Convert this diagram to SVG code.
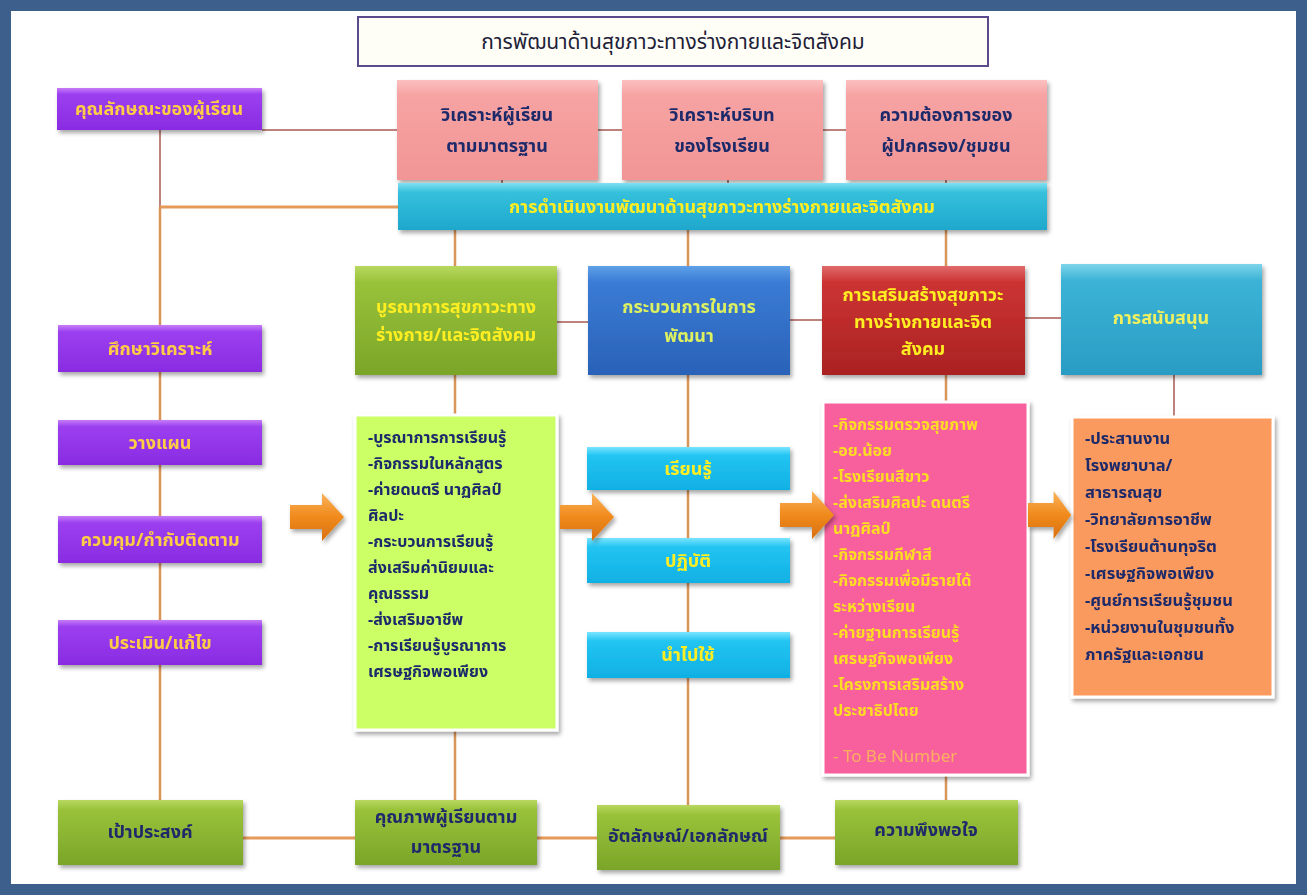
<svg xmlns="http://www.w3.org/2000/svg" width="1307" height="895" viewBox="0 0 1307 895">
<defs>
<style>
text{font-family:"Noto Sans Thai","Tahoma","Leelawadee UI","Liberation Sans","DejaVu Sans",sans-serif;}
.t{font-size:18px;font-weight:bold;text-anchor:middle;dominant-baseline:central;}
.y{fill:#ffee22;}
.o{fill:#ffcc44;}
.n{fill:#1f2a6b;}
.lst{font-size:16px;font-weight:bold;fill:#1f2a6b;}
.lso{font-size:16.5px;font-weight:bold;fill:#1f2a6b;}
.lsp{font-size:16px;font-weight:bold;fill:#ffdd22;}
.cb{fill:none;stroke:#a65a50;stroke-width:1.5;}
.co{fill:none;stroke:#e59a5a;stroke-width:3;}
.cv{fill:none;stroke:#d9955a;stroke-width:2.5;}
.box{filter:url(#sh);}
</style>
<filter id="sh" x="-10%" y="-10%" width="125%" height="135%">
<feDropShadow dx="2" dy="3" stdDeviation="2" flood-color="#000" flood-opacity="0.35"/>
</filter>
<linearGradient id="gPur" x1="0" y1="0" x2="0" y2="1"><stop offset="0" stop-color="#c67cf7"/><stop offset="0.15" stop-color="#9b3ff0"/><stop offset="1" stop-color="#8a2be2"/></linearGradient>
<linearGradient id="gPink" x1="0" y1="0" x2="0" y2="1"><stop offset="0" stop-color="#fbc0c0"/><stop offset="0.15" stop-color="#f7a3a3"/><stop offset="1" stop-color="#f19595"/></linearGradient>
<linearGradient id="gCy" x1="0" y1="0" x2="0" y2="1"><stop offset="0" stop-color="#7fe0f0"/><stop offset="0.2" stop-color="#35c0dc"/><stop offset="1" stop-color="#1ea8cc"/></linearGradient>
<linearGradient id="gGr" x1="0" y1="0" x2="0" y2="1"><stop offset="0" stop-color="#b8d860"/><stop offset="0.15" stop-color="#99c23a"/><stop offset="1" stop-color="#7aa528"/></linearGradient>
<linearGradient id="gBl" x1="0" y1="0" x2="0" y2="1"><stop offset="0" stop-color="#5fa0e8"/><stop offset="0.15" stop-color="#3a7bd5"/><stop offset="1" stop-color="#2a62b8"/></linearGradient>
<linearGradient id="gRd" x1="0" y1="0" x2="0" y2="1"><stop offset="0" stop-color="#e06a6a"/><stop offset="0.15" stop-color="#cc3333"/><stop offset="1" stop-color="#aa2222"/></linearGradient>
<linearGradient id="gSb" x1="0" y1="0" x2="0" y2="1"><stop offset="0" stop-color="#7dd4ea"/><stop offset="0.15" stop-color="#3bb3d6"/><stop offset="1" stop-color="#2a9cc4"/></linearGradient>
<linearGradient id="gSky" x1="0" y1="0" x2="0" y2="1"><stop offset="0" stop-color="#7ae4ff"/><stop offset="0.2" stop-color="#22c4f2"/><stop offset="1" stop-color="#10b0e4"/></linearGradient>
<linearGradient id="gArr" x1="0" y1="0" x2="0" y2="1"><stop offset="0" stop-color="#fbb35a"/><stop offset="0.5" stop-color="#f08a1c"/><stop offset="1" stop-color="#d8700e"/></linearGradient>
<path id="arr" d="M0,-12 H32 V-24 L54,0 L32,24 V12 H0 Z"/>
</defs>

<rect x="0" y="0" width="1307" height="895" fill="#3d5f8c"/>
<rect x="11" y="11" width="1285" height="873" fill="#ffffff"/>

<g id="connectors">
<line class="cb" x1="262" y1="130" x2="397" y2="130"/>
<line class="cb" x1="598" y1="130" x2="622" y2="130"/>
<line class="cb" x1="823" y1="130" x2="846" y2="130"/>
<line class="cb" x1="502" y1="180" x2="502" y2="183"/>
<line class="cb" x1="728" y1="180" x2="728" y2="183"/>
<line class="cb" x1="946" y1="180" x2="946" y2="183"/>
<line class="cb" x1="160" y1="130" x2="160" y2="207"/>
<line class="co" x1="160" y1="207" x2="398" y2="207"/>
<line class="cv" x1="160" y1="207" x2="160" y2="800"/>
<line class="cv" x1="455" y1="230" x2="455" y2="800"/>
<line class="cv" x1="688" y1="230" x2="688" y2="805"/>
<line class="cv" x1="946" y1="230" x2="946" y2="800"/>
<line class="cb" x1="557" y1="322" x2="588" y2="322"/>
<line class="cb" x1="790" y1="320" x2="822" y2="320"/>
<line class="cb" x1="1025" y1="318" x2="1061" y2="318"/>
<line class="cb" x1="1174" y1="375" x2="1174" y2="417"/>
<line class="co" x1="243" y1="838" x2="355" y2="838"/>
<line class="co" x1="537" y1="838" x2="597" y2="838"/>
<line class="co" x1="780" y1="838" x2="835" y2="838"/>
</g>

<g id="title"><rect x="358" y="17" width="630" height="49" fill="#fffef6" stroke="#5b4a8c" stroke-width="2"/><text x="673" y="42" fill="#1f1f3a" font-size="21" text-anchor="middle" dominant-baseline="central">การพัฒนาด้านสุขภาวะทางร่างกายและจิตสังคม</text></g>

<g id="n-learner" class="box"><rect x="57" y="88" width="205" height="42" fill="url(#gPur)"/><text class="t o" x="159" y="109">คุณลักษณะของผู้เรียน</text></g>
<g id="n-an1" class="box"><rect x="397" y="80" width="201" height="100" fill="url(#gPink)"/><text class="t n" x="497" y="115">วิเคราะห์ผู้เรียน</text><text class="t n" x="497" y="146">ตามมาตรฐาน</text></g>
<g id="n-an2" class="box"><rect x="622" y="80" width="201" height="100" fill="url(#gPink)"/><text class="t n" x="722" y="115">วิเคราะห์บริบท</text><text class="t n" x="722" y="146">ของโรงเรียน</text></g>
<g id="n-an3" class="box"><rect x="846" y="80" width="201" height="100" fill="url(#gPink)"/><text class="t n" x="946" y="115">ความต้องการของ</text><text class="t n" x="946" y="146">ผู้ปกครอง/ชุมชน</text></g>

<g id="n-ops" class="box"><rect x="398" y="183" width="649" height="47" fill="url(#gCy)"/><text class="t y" x="722" y="207">การดำเนินงานพัฒนาด้านสุขภาวะทางร่างกายและจิตสังคม</text></g>

<g id="n-integ" class="box"><rect x="355" y="266" width="202" height="109" fill="url(#gGr)"/><text class="t y" x="456" y="307">บูรณาการสุขภาวะทาง</text><text class="t y" x="456" y="335">ร่างกาย/และจิตสังคม</text></g>
<g id="n-proc" class="box"><rect x="588" y="266" width="202" height="109" fill="url(#gBl)"/><text class="t" x="689" y="307" fill="#ddf060">กระบวนการในการ</text><text class="t" x="689" y="336" fill="#ddf060">พัฒนา</text></g>
<g id="n-prom" class="box"><rect x="822" y="266" width="203" height="109" fill="url(#gRd)"/><text class="t y" x="923" y="295">การเสริมสร้างสุขภาวะ</text><text class="t y" x="923" y="322">ทางร่างกายและจิต</text><text class="t y" x="923" y="349">สังคม</text></g>
<g id="n-supp" class="box"><rect x="1061" y="264" width="201" height="111" fill="url(#gSb)"/><text class="t" x="1161" y="318" fill="#eef060">การสนับสนุน</text></g>

<g id="n-study" class="box"><rect x="58" y="325" width="204" height="47" fill="url(#gPur)"/><text class="t o" x="160" y="349">ศึกษาวิเคราะห์</text></g>
<g id="n-plan" class="box"><rect x="58" y="420" width="204" height="45" fill="url(#gPur)"/><text class="t o" x="160" y="443">วางแผน</text></g>
<g id="n-ctrl" class="box"><rect x="58" y="516" width="204" height="47" fill="url(#gPur)"/><text class="t o" x="160" y="540">ควบคุม/กำกับติดตาม</text></g>
<g id="n-eval" class="box"><rect x="58" y="620" width="204" height="45" fill="url(#gPur)"/><text class="t o" x="160" y="643">ประเมิน/แก้ไข</text></g>

<g id="n-list1" class="box"><rect x="355" y="415" width="202" height="315" fill="#ccff66" stroke="#ffffff" stroke-width="3"/>
<text class="lst" x="368" y="443">-บูรณาการการเรียนรู้</text>
<text class="lst" x="368" y="469">-กิจกรรมในหลักสูตร</text>
<text class="lst" x="368" y="495">-ค่ายดนตรี นาฏศิลป์</text>
<text class="lst" x="368" y="521">ศิลปะ</text>
<text class="lst" x="368" y="547">-กระบวนการเรียนรู้</text>
<text class="lst" x="368" y="573">ส่งเสริมค่านิยมและ</text>
<text class="lst" x="368" y="599">คุณธรรม</text>
<text class="lst" x="368" y="625">-ส่งเสริมอาชีพ</text>
<text class="lst" x="368" y="651">-การเรียนรู้บูรณาการ</text>
<text class="lst" x="368" y="677">เศรษฐกิจพอเพียง</text>
</g>

<g id="n-learn" class="box"><rect x="587" y="447" width="203" height="43" fill="url(#gSky)"/><text class="t y" x="688" y="469">เรียนรู้</text></g>
<g id="n-practice" class="box"><rect x="587" y="538" width="203" height="45" fill="url(#gSky)"/><text class="t y" x="688" y="561">ปฏิบัติ</text></g>
<g id="n-apply" class="box"><rect x="587" y="632" width="203" height="46" fill="url(#gSky)"/><text class="t y" x="688" y="655">นำไปใช้</text></g>

<g id="n-list2" class="box"><rect x="823" y="402" width="205" height="373" fill="#f7609c" stroke="#ffffff" stroke-width="3"/>
<text class="lsp" x="833" y="430">-กิจกรรมตรวจสุขภาพ</text>
<text class="lsp" x="833" y="456">-อย.น้อย</text>
<text class="lsp" x="833" y="482">-โรงเรียนสีขาว</text>
<text class="lsp" x="833" y="508">-ส่งเสริมศิลปะ ดนตรี</text>
<text class="lsp" x="833" y="534">นาฏศิลป์</text>
<text class="lsp" x="833" y="560">-กิจกรรมกีฬาสี</text>
<text class="lsp" x="833" y="586">-กิจกรรมเพื่อมีรายได้</text>
<text class="lsp" x="833" y="612">ระหว่างเรียน</text>
<text class="lsp" x="833" y="638">-ค่ายฐานการเรียนรู้</text>
<text class="lsp" x="833" y="664">เศรษฐกิจพอเพียง</text>
<text class="lsp" x="833" y="690">-โครงการเสริมสร้าง</text>
<text class="lsp" x="833" y="716">ประชาธิปไตย</text>
<text class="lsp" x="833" y="762" style="fill:#ffb060;font-weight:normal;font-size:17px">- To  Be Number</text>
</g>

<g id="n-list3" class="box"><rect x="1072" y="417" width="201" height="280" fill="#fb9a5e" stroke="#ffffff" stroke-width="3"/>
<text class="lso" x="1085" y="444">-ประสานงาน</text>
<text class="lso" x="1085" y="471">โรงพยาบาล/</text>
<text class="lso" x="1085" y="498">สาธารณสุข</text>
<text class="lso" x="1085" y="525">-วิทยาลัยการอาชีพ</text>
<text class="lso" x="1085" y="552">-โรงเรียนต้านทุจริต</text>
<text class="lso" x="1085" y="579">-เศรษฐกิจพอเพียง</text>
<text class="lso" x="1085" y="606">-ศูนย์การเรียนรู้ชุมชน</text>
<text class="lso" x="1085" y="633">-หน่วยงานในชุมชนทั้ง</text>
<text class="lso" x="1085" y="660">ภาครัฐและเอกชน</text>
</g>

<g id="arrows" fill="url(#gArr)" class="box">
<use href="#arr" transform="translate(290,517)"/>
<use href="#arr" transform="translate(560,517)"/>
<use href="#arr" transform="translate(780,515)"/>
<use href="#arr" transform="translate(1028,515) scale(0.8,1)"/>
</g>

<g id="n-goal" class="box"><rect x="58" y="800" width="185" height="65" fill="url(#gGr)"/><text class="t n" x="150" y="832">เป้าประสงค์</text></g>
<g id="n-quality" class="box"><rect x="355" y="800" width="182" height="65" fill="url(#gGr)"/><text class="t n" x="446" y="817">คุณภาพผู้เรียนตาม</text><text class="t n" x="446" y="847">มาตรฐาน</text></g>
<g id="n-ident" class="box"><rect x="597" y="805" width="183" height="65" fill="url(#gGr)"/><text class="t n" x="688" y="836">อัตลักษณ์/เอกลักษณ์</text></g>
<g id="n-satis" class="box"><rect x="835" y="800" width="183" height="65" fill="url(#gGr)"/><text class="t n" x="926" y="830">ความพึงพอใจ</text></g>
</svg>
